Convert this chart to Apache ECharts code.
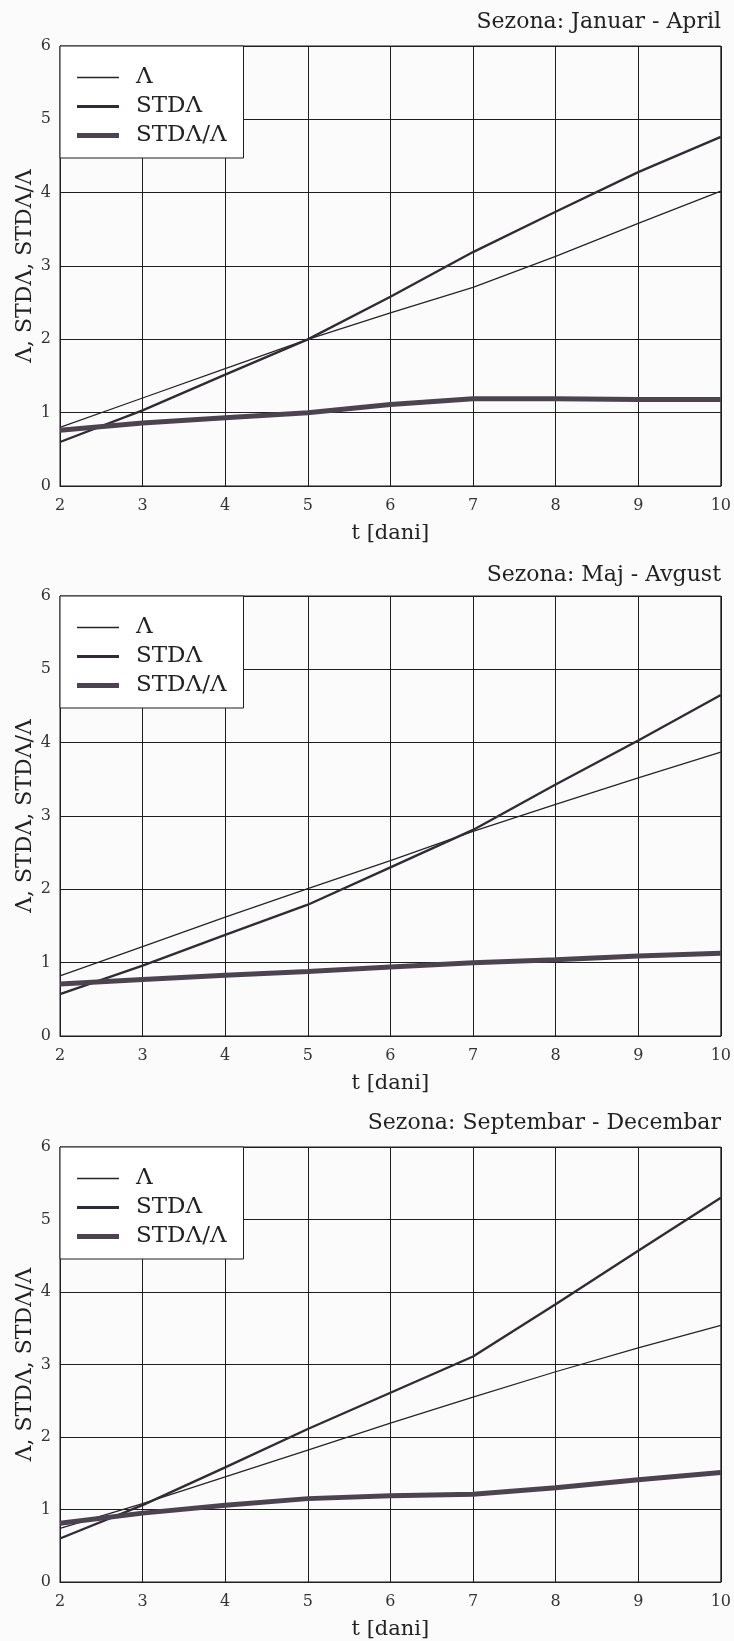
<!DOCTYPE html>
<html>
<head>
<meta charset="utf-8">
<script src="https://cdn.jsdelivr.net/npm/echarts@6/dist/echarts.min.js"></script>
<style>
html,body{margin:0;padding:0;background:#fbfbfb;}
#c{width:734px;height:1641px;}
</style>
</head>
<body>
<div id="c"></div>
<script>
// ---- data ----
const days = [2, 3, 4, 5, 6, 7, 8, 9, 10];
const seasonTitles = ['Sezona: Januar - April', 'Sezona: Maj - Avgust', 'Sezona: Septembar - Decembar'];
const seriesNames = ['Λ', 'STDΛ', 'STDΛ/Λ'];

const janLambda = [0.80, 1.20, 1.60, 2.00, 2.36, 2.71, 3.13, 3.58, 4.02];
const janStd    = [0.60, 1.03, 1.52, 2.00, 2.58, 3.19, 3.74, 4.28, 4.76];
const janRatio  = [0.76, 0.86, 0.93, 1.00, 1.11, 1.19, 1.19, 1.18, 1.18];

const majLambda = [0.82, 1.22, 1.62, 2.01, 2.39, 2.79, 3.16, 3.52, 3.87];
const majStd    = [0.57, 0.96, 1.38, 1.79, 2.30, 2.81, 3.43, 4.03, 4.65];
const majRatio  = [0.71, 0.77, 0.83, 0.88, 0.94, 1.00, 1.04, 1.09, 1.13];

const sepLambda = [0.74, 1.08, 1.45, 1.82, 2.19, 2.55, 2.90, 3.23, 3.54];
const sepStd    = [0.60, 1.06, 1.58, 2.11, 2.61, 3.11, 3.83, 4.57, 5.30];
const sepRatio  = [0.81, 0.95, 1.06, 1.15, 1.19, 1.21, 1.30, 1.41, 1.51];

const panels = [
  [janLambda, janStd, janRatio],
  [majLambda, majStd, majRatio],
  [sepLambda, sepStd, sepRatio]
];

// ---- layout / style ----
const FONT = 'DejaVu Serif';
const gridTops = [46, 596, 1147];
const gridH = 440;
const titleTops = [11, 564, 1112];
const lineStyles = [
  {color: '#262428', width: 1.3},
  {color: '#302b35', width: 2.4},
  {color: '#4d4350', width: 5}
];
const legendIcons = [
  'path://M0,0h42v1.5h-42z',
  'path://M0,0h42v3h-42z',
  'path://M0,0h42v5h-42z'
];

const grid = [], xAxis = [], yAxis = [], series = [], title = [], legend = [];
panels.forEach((vals, i) => {
  grid.push({left: 60, right: 13, top: gridTops[i], height: gridH,
    show: true, borderColor: '#1e1e1e', borderWidth: 1, backgroundColor: 'transparent'});
  xAxis.push({type: 'value', gridIndex: i, min: 2, max: 10, interval: 1,
    name: 't [dani]', nameLocation: 'middle', nameGap: 37,
    nameTextStyle: {fontFamily: FONT, fontSize: 21, color: '#222'},
    axisLine: {show: true, lineStyle: {color: '#1e1e1e', width: 1}},
    axisTick: {show: false},
    axisLabel: {fontFamily: FONT, fontSize: 16, color: '#333', margin: 12},
    splitLine: {show: true, lineStyle: {color: '#1e1e1e', width: 1}}});
  yAxis.push({type: 'value', gridIndex: i, min: 0, max: 6, interval: 1,
    name: 'Λ, STDΛ, STDΛ/Λ', nameLocation: 'middle', nameGap: 24, nameMoveOverlap: false,
    nameTextStyle: {fontFamily: FONT, fontSize: 22, color: '#222'},
    axisLine: {show: true, lineStyle: {color: '#1e1e1e', width: 1}},
    axisTick: {show: false},
    axisLabel: {fontFamily: FONT, fontSize: 16, color: '#333', margin: 9},
    splitLine: {show: true, lineStyle: {color: '#1e1e1e', width: 1}}});
  title.push({text: seasonTitles[i], right: 13, top: titleTops[i], padding: 0,
    textStyle: {fontFamily: FONT, fontSize: 22, fontWeight: 'normal', color: '#222'}});
  legend.push({
    data: seriesNames.map((n, k) => ({name: n, icon: legendIcons[k]})),
    orient: 'vertical', left: 60, top: gridTops[i],
    padding: [20, 17, 11, 17], itemGap: 6, itemWidth: 42, itemHeight: 14,
    backgroundColor: '#ffffff', borderColor: '#1e1e1e', borderWidth: 1, borderRadius: 0,
    selectedMode: false, z: 10,
    textStyle: {fontFamily: FONT, fontSize: 23, lineHeight: 20, color: '#222', padding: [0, 0, 0, 12]}});
  vals.forEach((arr, k) => {
    series.push({type: 'line', name: seriesNames[k], xAxisIndex: i, yAxisIndex: i,
      data: days.map((d, j) => [d, arr[j]]),
      symbol: 'none', smooth: false, silent: true, animation: false,
      lineStyle: {color: lineStyles[k].color, width: lineStyles[k].width},
      itemStyle: {color: lineStyles[k].color}, z: 3 + k});
  });
});

const chart = echarts.init(document.getElementById('c'), null, {renderer: 'canvas'});
chart.setOption({backgroundColor: '#fbfbfb', animation: false,
  title, legend, grid, xAxis, yAxis, series});
</script>
</body>
</html>
